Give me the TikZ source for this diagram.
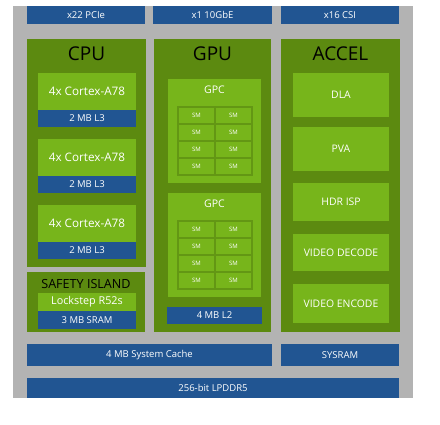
\documentclass[tikz,border=0pt]{standalone}
\usepackage{fontspec}
\setmainfont{Open Sans}
\definecolor{bggray}{HTML}{B3B3B3}
\definecolor{dkg}{HTML}{5C8A10}
\definecolor{ltg}{HTML}{77B51B}
\definecolor{blu}{HTML}{215592}
\definecolor{smg}{HTML}{639714}
\tikzset{
  blk/.style={inner sep=0pt,outer sep=0pt,anchor=north west,draw=none},
  bluebox/.style={blk,fill=blu,text=white,font=\fontsize{9.5}{10}\selectfont},
  darkbox/.style={blk,fill=dkg},
  lightbox/.style={blk,fill=ltg,text=white},
  smcell/.style={blk,fill=ltg,text=white,minimum width=35pt,minimum height=15pt,font=\fontsize{6}{6}\selectfont},
  title/.style={inner sep=0pt,text=black,font=\fontsize{19}{20}\selectfont},
  sz/.style 2 args={minimum width=#1pt,minimum height=#2pt}
}
\begin{document}
\begin{tikzpicture}[x=1pt,y=-1pt]
\useasboundingbox (0,0) rectangle (440,425);
\fill[white] (0,0) rectangle (440,425);
\node[blk,fill=bggray,sz={400}{392}] (bg) at (13,6) {};
% top interfaces
\node[bluebox,sz={118}{18}] (pcie) at (27,6) {x22 PCIe};
\node[bluebox,sz={119}{18}] (gbe) at (153,6) {x1 10GbE};
\node[bluebox,sz={118}{18}] (csi) at (281,6) {x16 CSI};
% CPU
\node[darkbox,sz={119}{228}] (cpu) at (27,39) {};
\node[title] (cputitle) at (86.5,54) {CPU};
\foreach \i/\y in {1/73,2/139,3/205}{
  \node[lightbox,sz={98}{37},font=\fontsize{11.7}{12}\selectfont] (core\i) at (38,\y) {4x Cortex-A78};
  \node[bluebox,sz={98}{17}] (l3\i) at (38,\y+37) {2 MB L3};
}
% Safety island
\node[darkbox,sz={118}{60}] (safety) at (27,272) {};
\node[title,font=\fontsize{12.6}{13}\selectfont] (safetytitle) at (86,284.5) {SAFETY ISLAND};
\node[lightbox,sz={98}{18},font=\fontsize{10.8}{11}\selectfont] (lockstep) at (38,293) {Lockstep R52s};
\node[bluebox,sz={98}{18}] (sram) at (38,311) {3 MB SRAM};
% GPU
\node[darkbox,sz={117}{293}] (gpu) at (154,39) {};
\node[title] (gputitle) at (212.5,54) {GPU};
\foreach \g/\y in {1/79,2/193}{
  \node[lightbox,sz={93}{104}] (gpc\g) at (168,\y) {};
  \node[inner sep=0pt,text=white,font=\fontsize{10.5}{11}\selectfont] (gpclabel\g) at (214.5,\y+11) {GPC};
  \node[blk,fill=smg,sz={76}{70}] (grid\g) at (177,\y+27) {};
  \foreach \r in {0,1,2,3}{
    \foreach \c/\x in {0/179,1/216}{
      \node[smcell] (sm-\g-\r-\c) at (\x,\y+29+17*\r) {SM};
    }
  }
}
\node[bluebox,sz={95}{17}] (l2) at (167,307) {4 MB L2};
% ACCEL
\node[darkbox,sz={119}{293}] (accel) at (281,39) {};
\node[title] (acceltitle) at (340.5,54) {ACCEL};
\tikzset{acc/.style={lightbox,minimum width=96pt,font=\fontsize{10.4}{11}\selectfont}}
\node[acc,minimum height=44pt] (dla) at (293,73) {DLA};
\node[acc,minimum height=44pt] (pva) at (293,127) {PVA};
\node[acc,minimum height=38pt] (hdr) at (293,183) {HDR ISP};
\node[acc,minimum height=37pt] (dec) at (293,234) {VIDEO DECODE};
\node[acc,minimum height=39pt] (enc) at (293,284) {VIDEO ENCODE};
% bottom
\node[bluebox,sz={245}{22}] (cache) at (27,344) {4 MB System Cache};
\node[bluebox,sz={118}{22}] (sysram) at (281,344) {SYSRAM};
\node[bluebox,sz={372}{20}] (lpddr) at (27,378) {256-bit LPDDR5};
\end{tikzpicture}
\end{document}
